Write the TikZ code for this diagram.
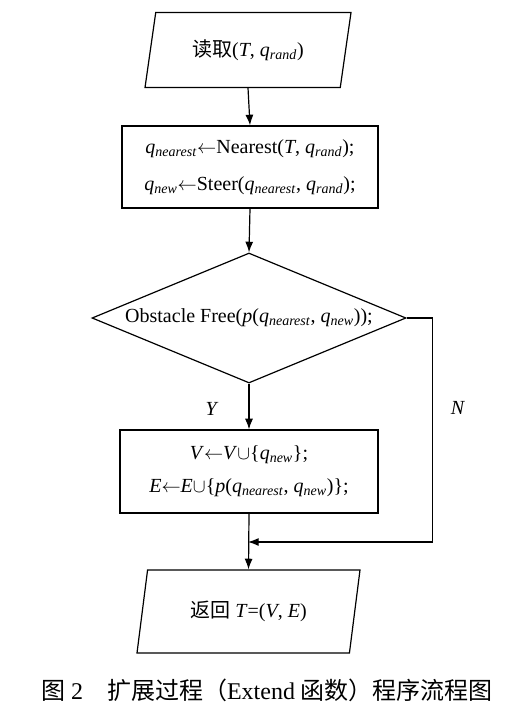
\documentclass[tikz,border=0pt]{standalone}
\usepackage{fontspec}
\setmainfont{Liberation Serif}
\newfontfamily\cjk{Noto Sans CJK SC}
\usetikzlibrary{shapes.geometric,arrows.meta,positioning}
\newcommand{\qsub}[1]{\textit{q}\textsubscript{\textit{#1}}}

\begin{document}
\begin{tikzpicture}[x=0.75pt,y=-0.75pt,
    every node/.style={font=\fontsize{15}{20}\selectfont},
    io/.style={draw, trapezium, trapezium left angle=63, trapezium right angle=117,
      trapezium stretches body, inner sep=0pt, line width=0.9pt},
    procbox/.style={draw, rectangle, inner sep=0pt, line width=0.9pt, align=center},
    decide/.style={draw, diamond, aspect=2.4, inner sep=0pt, line width=0.9pt},
    arr/.style={-{Latex[length=8pt,width=6pt]}, line width=0.9pt}]
    \useasboundingbox (0,0) rectangle (531,707);
    % Draw the input and output parallelograms
    \node[io, minimum width=154.5pt, minimum height=56.25pt] (read) at (248,50)
      {{\cjk 读取}(\textit{T}, \qsub{rand})};
    \node[io, minimum width=167.25pt, minimum height=62.25pt] (ret) at (248.5,611.5)
      {{\cjk 返回} \textit{T}=(\textit{V}, \textit{E})};
    % Draw the process boxes
    \node[procbox, minimum width=192pt, minimum height=61.5pt,
      font=\fontsize{15}{28}\selectfont] (near) at (250,167)
      {\qsub{nearest}$\leftarrow$Nearest(\textit{T}, \qsub{rand});\\
       \qsub{new}$\leftarrow$Steer(\qsub{nearest}, \qsub{rand});};
    \node[procbox, minimum width=193.5pt, minimum height=62.25pt,
      font=\fontsize{15}{25}\selectfont] (add) at (249,471.5)
      {\textit{V}$\leftarrow$\textit{V}$\cup$\{\qsub{new}\};\\
       \textit{E}$\leftarrow$\textit{E}$\cup$\{\textit{p}(\qsub{nearest}, \qsub{new})\};};
    % Draw the decision diamond
    \node[decide, minimum width=235.5pt, minimum height=97.5pt] (free) at (249,318)
      {Obstacle Free(\textit{p}(\qsub{nearest}, \qsub{new}));};
    \coordinate (join) at (248,542);
    % Draw connecting arrows
    \draw[arr] (read.south) -- (near.north);
    \draw[arr] (near.south) -- (free.north);
    \draw[arr] (free.south) -- node[pos=0.55, left=19pt] {\textit{Y}} (add.north);
    \draw[arr] (add.south) -- (ret.north);
    \draw[arr] (free.east) -- ++(26,0) |- node[pos=0.2, right=10pt] {\textit{N}} (join);
    % Caption
    \node[font=\fontsize{18}{22}\selectfont] (cap) at (267,690)
      {{\cjk 图} 2\quad{\cjk 扩展过程（}Extend {\cjk 函数）程序流程图}};
\end{tikzpicture}
\end{document}
